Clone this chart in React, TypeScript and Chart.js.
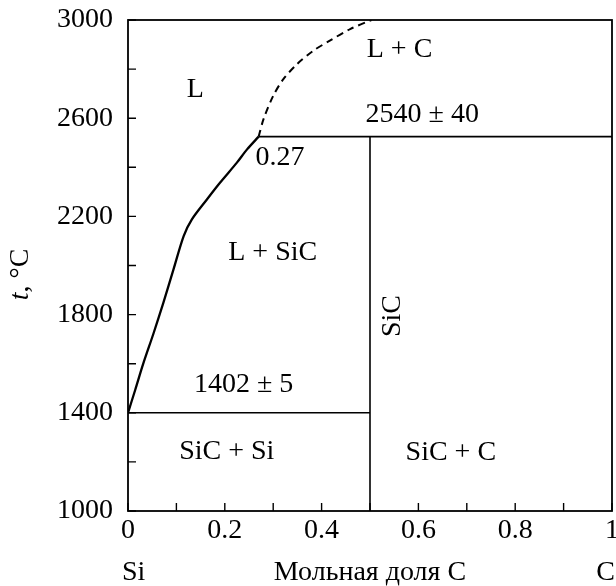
import { useEffect, useRef } from "react";
import { Chart, registerables } from "chart.js";

Chart.register(...registerables);

// Liquidus (solid) and its extrapolated part (dashed)
const liquidusX = [0, 0.015, 0.032, 0.053, 0.073, 0.094, 0.115, 0.132, 0.163, 0.19, 0.225, 0.246, 0.27];
const liquidusY = [1400, 1494, 1603, 1725, 1848, 1984, 2120, 2188, 2269, 2337, 2419, 2473, 2525];
const dashedX = [0.27, 0.28, 0.3, 0.321, 0.349, 0.383, 0.417, 0.459, 0.503];
const dashedY = [2525, 2596, 2691, 2759, 2820, 2875, 2916, 2963, 3000];
// Invariant lines
const eutecticX = [0, 0.5];
const eutecticY = [1400, 1400];
const peritecticX = [0.27, 1];
const peritecticY = [2525, 2525];
const sicX = [0.5, 0.5];
const sicY = [1000, 2525];

// Region / value labels
const regionText = ["L", "L + C", "2540 ± 40", "0.27", "L + SiC", "1402 ± 5", "SiC + Si", "SiC + C"];
const regionX = [0.139, 0.561, 0.608, 0.314, 0.299, 0.239, 0.204, 0.667];
const regionY = [2715, 2878, 2613, 2438, 2051, 1513, 1242, 1236];
const rotatedText = ["SiC"];
const rotatedX = [0.546];
const rotatedY = [1794];

const xMin = 0, xMax = 1, xStep = 0.1;
const yMin = 1000, yMax = 3000, yStep = 200;
const xAxisEnds = ["Si", "Мольная доля С", "C"];

const FONT = "'Liberation Serif', 'Times New Roman', serif";
const FS = 28;

const pts = (xs: number[], ys: number[]) => xs.map((x, i) => ({ x, y: ys[i] }));

export default function App() {
  const ref = useRef<HTMLCanvasElement | null>(null);

  useEffect(() => {
    if (!ref.current) return;

    const decor = {
      id: "decor",
      afterDraw(chart: any) {
        const { ctx, chartArea: a, scales } = chart;
        const xs = scales.x, ys = scales.y;
        ctx.save();
        // frame
        ctx.strokeStyle = "#000";
        ctx.lineWidth = 1.8;
        ctx.strokeRect(a.left, a.top, a.right - a.left, a.bottom - a.top);
        // inward ticks
        ctx.lineWidth = 1.4;
        ctx.beginPath();
        xs.ticks.forEach((t: any) => {
          const px = xs.getPixelForValue(t.value);
          ctx.moveTo(px, a.bottom);
          ctx.lineTo(px, a.bottom - 8);
        });
        ys.ticks.forEach((t: any) => {
          const py = ys.getPixelForValue(t.value);
          ctx.moveTo(a.left, py);
          ctx.lineTo(a.left + 8, py);
        });
        ctx.stroke();

        // region labels
        ctx.fillStyle = "#000";
        ctx.font = `${FS}px ${FONT}`;
        ctx.textAlign = "center";
        ctx.textBaseline = "middle";
        regionText.forEach((s, i) => {
          ctx.fillText(s, xs.getPixelForValue(regionX[i]), ys.getPixelForValue(regionY[i]));
        });
        rotatedText.forEach((s, i) => {
          ctx.save();
          ctx.translate(xs.getPixelForValue(rotatedX[i]), ys.getPixelForValue(rotatedY[i]));
          ctx.rotate(-Math.PI / 2);
          ctx.fillText(s, 0, 0);
          ctx.restore();
        });

        // x axis end labels and title
        ctx.textBaseline = "alphabetic";
        ctx.textAlign = "left";
        ctx.fillText(xAxisEnds[0], xs.getPixelForValue(xMin) - 6, 580);
        ctx.textAlign = "center";
        ctx.fillText(xAxisEnds[1], xs.getPixelForValue((xMin + xMax) / 2), 580);
        ctx.textAlign = "right";
        ctx.fillText(xAxisEnds[2], xs.getPixelForValue(xMax) + 3, 580);

        // y title: italic t
        ctx.save();
        ctx.translate(28, (a.top + a.bottom) / 2 + 9);
        ctx.rotate(-Math.PI / 2);
        ctx.textAlign = "left";
        const p1 = "t";
        const p2 = ", °C";
        ctx.font = `italic ${FS}px ${FONT}`;
        const w1 = ctx.measureText(p1).width;
        ctx.font = `${FS}px ${FONT}`;
        const w2 = ctx.measureText(p2).width;
        const start = -(w1 + w2) / 2;
        ctx.font = `italic ${FS}px ${FONT}`;
        ctx.fillText(p1, start, 0);
        ctx.font = `${FS}px ${FONT}`;
        ctx.fillText(p2, start + w1, 0);
        ctx.restore();

        ctx.restore();
      },
    };

    const lineDs = (data: any[], width: number, dash: number[] = []) => ({
      data,
      borderColor: "#000",
      borderWidth: width,
      borderDash: dash,
      pointRadius: 0,
      showLine: true,
      tension: 0.3,
      fill: false,
    });

    const chart = new Chart(ref.current, {
      type: "scatter",
      data: {
        datasets: [
          lineDs(pts(liquidusX, liquidusY), 2.3),
          lineDs(pts(dashedX, dashedY), 2, [7, 5]),
          { ...lineDs(pts(eutecticX, eutecticY), 1.6), tension: 0 },
          { ...lineDs(pts(peritecticX, peritecticY), 1.6), tension: 0 },
          { ...lineDs(pts(sicX, sicY), 1.6), tension: 0 },
        ] as any,
      },
      options: {
        responsive: false,
        animation: false,
        layout: { padding: { top: 20, right: 4, left: 0, bottom: 0 } },
        plugins: { legend: { display: false }, tooltip: { enabled: false }, title: { display: false } },
        scales: {
          x: {
            type: "linear",
            min: xMin,
            max: xMax,
            border: { display: false },
            grid: { display: false, drawTicks: false },
            ticks: {
              stepSize: xStep,
              padding: 3,
              color: "#000",
              font: { family: FONT, size: FS },
              maxRotation: 0,
              autoSkip: false,
              callback: (v: any) => {
                const k = Math.round(Number(v) * 10);
                if (k % 2 !== 0) return "";
                if (k === 0) return "0";
                if (k === 10) return "1";
                return (k / 10).toFixed(1);
              },
            },
            afterFit: (s: any) => {
              s.height = 586 - 511;
              s.paddingLeft = 0;
              s.paddingRight = 0;
            },
          },
          y: {
            type: "linear",
            min: yMin,
            max: yMax,
            border: { display: false },
            grid: { display: false, drawTicks: false },
            ticks: {
              stepSize: yStep,
              padding: 15,
              color: "#000",
              font: { family: FONT, size: FS },
              autoSkip: false,
              callback: (v: any) => ((Number(v) - yMin) % 400 === 0 ? String(v) : ""),
            },
            afterFit: (s: any) => {
              s.width = 128;
              s.paddingTop = 0;
              s.paddingBottom = 0;
            },
          },
        },
      },
      plugins: [decor],
    });

    return () => chart.destroy();
  }, []);

  return (
    <div style={{ position: "absolute", left: 0, top: 0, width: 616, height: 586 }}>
      <canvas ref={ref} width={616} height={586} />
    </div>
  );
}
